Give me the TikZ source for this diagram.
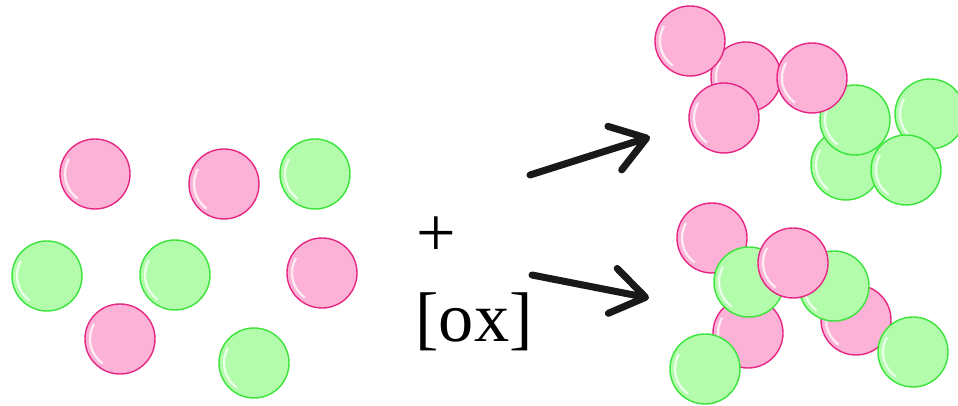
\documentclass[tikz,border=0pt]{standalone}
\usepackage{fontspec}
\setmainfont{Liberation Serif}
\usetikzlibrary{arrows.meta}

\definecolor{pinkfill}{RGB}{252,178,214}
\definecolor{pinkline}{RGB}{228,40,132}
\definecolor{greenfill}{RGB}{178,252,172}
\definecolor{greenline}{RGB}{58,228,58}

\begin{document}
\begin{tikzpicture}[
        ball/.style={circle, minimum size=1.4cm, inner sep=0pt, line width=0.8pt,
                     path picture={\draw[white, opacity=.75, line width=1.3pt]
                       ([shift={(150:0.6)}]path picture bounding box.center)
                       arc[start angle=150, end angle=235, radius=0.6];}},
        pk/.style={ball, draw=pinkline, fill=pinkfill},
        gr/.style={ball, draw=greenline, fill=greenfill},
        arr/.style={-{Straight Barb[length=19pt, width=26pt, line cap=round, line join=round]},
                    line width=4pt, line cap=round, black!90},
        big/.style={font=\fontsize{40}{44}\selectfont, inner sep=0pt, anchor=base}
      ]
        \useasboundingbox (0,0) rectangle (19.16,8.12);

        % starting mixture
        \node[pk] (p1) at (1.90,4.64) {};
        \node[pk] (p2) at (4.48,4.44) {};
        \node[gr] (g1) at (6.30,4.64) {};
        \node[gr] (g2) at (0.94,2.60) {};
        \node[gr] (g3) at (3.50,2.62) {};
        \node[pk] (p3) at (6.44,2.66) {};
        \node[pk] (p4) at (2.40,1.34) {};
        \node[gr] (g4) at (5.08,0.86) {};

        \node[big] (plus) at (8.72,2.98) {+};
        \node[big] (ox) at (9.48,1.28) {[ox]};

        % block product
        \node[pk] (a2) at (14.92,6.58) {};
        \node[pk] (a1) at (13.80,7.30) {};
        \node[pk] (a3) at (14.48,5.76) {};
        \node[gr] (b4) at (18.60,5.84) {};
        \node[gr] (b1) at (16.92,4.82) {};
        \node[gr] (b2) at (17.10,5.72) {};
        \node[gr] (b3) at (18.12,4.72) {};
        \node[pk] (a4) at (16.24,6.56) {};

        % random product
        \node[pk] (c1) at (14.24,3.36) {};
        \node[pk] (c2) at (14.96,1.46) {};
        \node[gr] (d1) at (14.98,2.48) {};
        \node[gr] (d2) at (14.10,0.74) {};
        \node[pk] (c4) at (17.12,1.72) {};
        \node[gr] (d3) at (16.68,2.40) {};
        \node[pk] (c3) at (15.86,2.86) {};
        \node[gr] (d4) at (18.26,1.08) {};

        \coordinate (t1) at (10.60,4.62);
        \coordinate (h1) at (13.00,5.38);
        \coordinate (t2) at (10.64,2.62);
        \coordinate (h2) at (12.98,2.16);
        \draw[arr] (t1) -- (h1);
        \draw[arr] (t2) -- (h2);
      \end{tikzpicture}
\end{document}
